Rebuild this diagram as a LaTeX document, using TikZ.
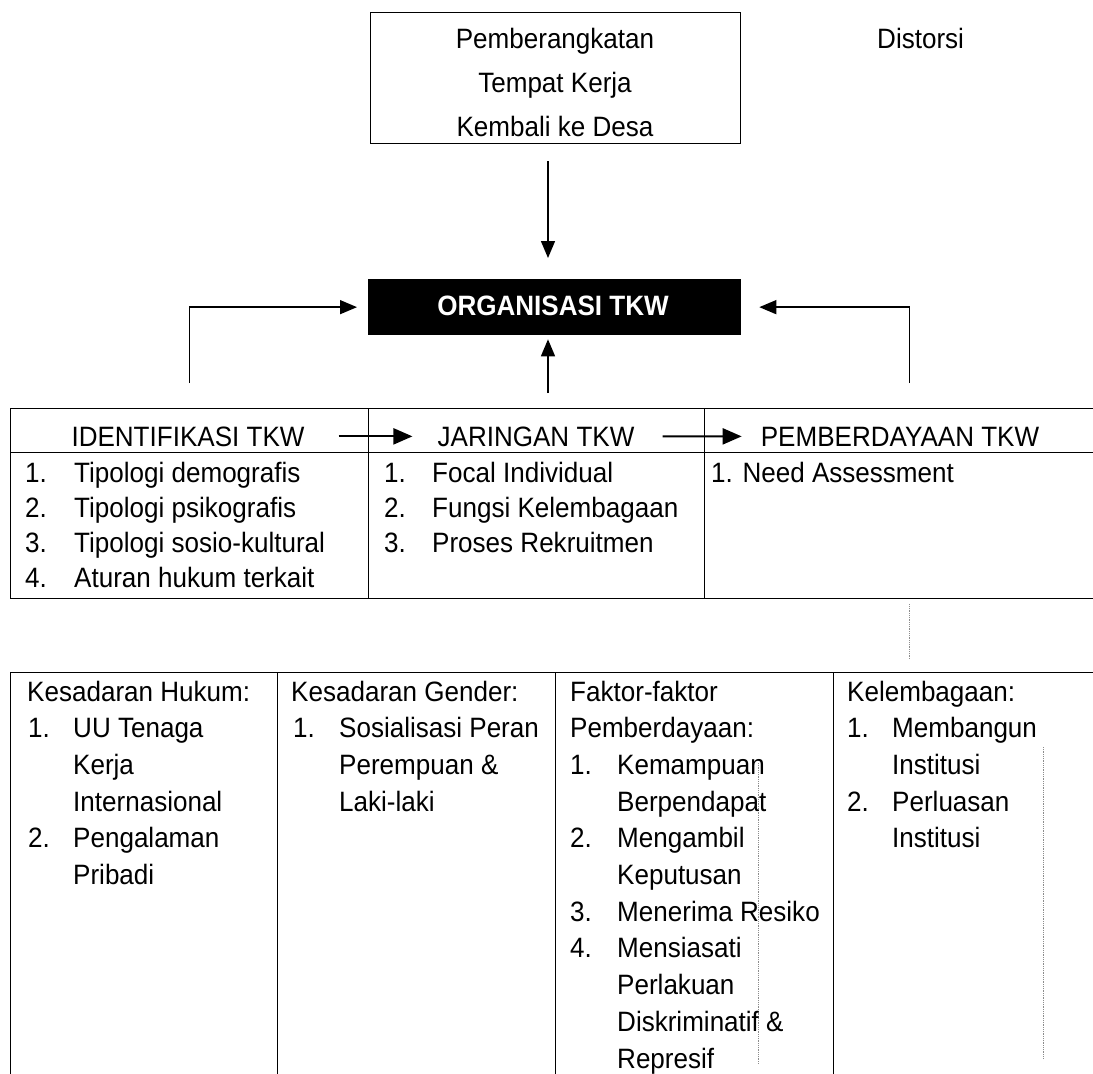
\documentclass[tikz,border=0pt]{standalone}
\usepackage{fontspec}
\setmainfont{Liberation Sans}[FakeStretch=0.93]
\usetikzlibrary{arrows.meta}
\begin{document}
\begin{tikzpicture}[x=1bp,y=-1bp,
  txt/.style={inner sep=0pt, anchor=base west, font=\fontsize{28bp}{34bp}\selectfont},
  ctxt/.style={txt, anchor=base},
  frame/.style={draw=black, line width=1.3bp, inner sep=0pt, anchor=north west},
  conn/.style={draw=black, line width=1.4bp, -{Triangle[length=17bp,width=14bp]}},
  hconn/.style={draw=black, line width=2.2bp, -{Triangle[length=19bp,width=16bp]}},
  ghost/.style={draw=black!45, line width=0.8bp, densely dotted}]

\useasboundingbox (0,0) rectangle (1093,1074);
\fill[white] (0,0) rectangle (1093,1074);

% ---------- top box ----------
\node[frame, minimum width=370bp, minimum height=131bp] (src) at (370,12) {};
\node[ctxt] (s1) at (555,48) {Pemberangkatan};
\node[ctxt] (s2) at (555,92) {Tempat Kerja};
\node[ctxt] (s3) at (555,136) {Kembali ke Desa};
\node[txt] (dist) at (877,48) {Distorsi};

% ---------- central box ----------
\node[frame, fill=black, minimum width=372bp, minimum height=55bp] (org) at (368,279) {};
\node[inner sep=0pt, text=white, font=\fontsize{28bp}{34bp}\selectfont\bfseries] (orgt) at (553,306) {ORGANISASI TKW};

\coordinate (ax) at (548,0);
\draw[conn, shorten <=17bp, shorten >=21bp] (src.south -| ax) -- (org.north -| ax);

% ---------- table 1 ----------
\node[frame, minimum width=358bp, minimum height=44bp] (h1) at (10,408) {};
\node[frame, minimum width=336bp, minimum height=44bp] (h2) at (368,408) {};
\node[frame, minimum width=410bp, minimum height=44bp] (h3) at (704,408) {};
\node[frame, minimum width=358bp, minimum height=146bp] (b1) at (10,452) {};
\node[frame, minimum width=336bp, minimum height=146bp] (b2) at (368,452) {};
\node[frame, minimum width=410bp, minimum height=146bp] (b3) at (704,452) {};

\node[ctxt] (ht1) at (188,446) {IDENTIFIKASI TKW};
\node[ctxt] (ht2) at (536,446) {JARINGAN TKW};
\node[ctxt] (ht3) at (900,446) {PEMBERDAYAAN TKW};
\draw[hconn, shorten <=34bp, shorten >=25bp] (ht1.east) -- (ht2.west);
\draw[hconn, shorten <=28bp, shorten >=19bp] (ht2.east) -- (ht3.west);

% connectors to central box
\draw[conn, shorten >=11bp] ([yshift=25bp]h1.north) |- (org.west);
\draw[conn, shorten >=18bp] ([yshift=25bp]h3.north) |- (org.east);
\draw[conn, shorten <=15bp, shorten >=4bp] (h2.north -| ax) -- (org.south -| ax);

% column 1
\node[txt] (a1n) at (25,482) {1.};  \node[txt] (a1) at (74,482) {Tipologi demografis};
\node[txt] (a2n) at (25,517) {2.};  \node[txt] (a2) at (74,517) {Tipologi psikografis};
\node[txt] (a3n) at (25,552) {3.};  \node[txt] (a3) at (74,552) {Tipologi sosio-kultural};
\node[txt] (a4n) at (25,587) {4.};  \node[txt] (a4) at (74,587) {Aturan hukum terkait};
% column 2
\node[txt] (j1n) at (384,482) {1.};  \node[txt] (j1) at (432,482) {Focal Individual};
\node[txt] (j2n) at (384,517) {2.};  \node[txt] (j2) at (432,517) {Fungsi Kelembagaan};
\node[txt] (j3n) at (384,552) {3.};  \node[txt] (j3) at (432,552) {Proses Rekruitmen};
% column 3
\node[txt] (p1) at (711,482) {1. Need Assessment};

% faint scan line
\draw[ghost] ([yshift=-5bp]b3.south) -- ++(0,55);

% ---------- table 2 ----------
\node[frame, minimum width=267bp, minimum height=420bp] (c1) at (10,672) {};
\node[frame, minimum width=278bp, minimum height=420bp] (c2) at (277,672) {};
\node[frame, minimum width=278bp, minimum height=420bp] (c3) at (555,672) {};
\node[frame, minimum width=278bp, minimum height=420bp] (c4) at (833,672) {};

\draw[ghost] (758,763) -- (758,1064);
\draw[ghost] (1043,747) -- (1043,1058);

\def\ls{36.7}
% col 1
\node[txt] (k0) at (27,701) {Kesadaran Hukum:};
\node[txt] (k1n) at (28,{701+1*\ls}) {1.}; \node[txt] (k1) at (73,{701+1*\ls}) {UU Tenaga};
\node[txt] (k2) at (73,{701+2*\ls}) {Kerja};
\node[txt] (k3) at (73,{701+3*\ls}) {Internasional};
\node[txt] (k4n) at (28,{701+4*\ls}) {2.}; \node[txt] (k4) at (73,{701+4*\ls}) {Pengalaman};
\node[txt] (k5) at (73,{701+5*\ls}) {Pribadi};
% col 2
\node[txt] (g0) at (291,701) {Kesadaran Gender:};
\node[txt] (g1n) at (293,{701+1*\ls}) {1.}; \node[txt] (g1) at (339,{701+1*\ls}) {Sosialisasi Peran};
\node[txt] (g2) at (339,{701+2*\ls}) {Perempuan \&};
\node[txt] (g3) at (339,{701+3*\ls}) {Laki-laki};
% col 3
\node[txt] (f0) at (570,701) {Faktor-faktor};
\node[txt] (f1) at (570,{701+1*\ls}) {Pemberdayaan:};
\node[txt] (f2n) at (570,{701+2*\ls}) {1.}; \node[txt] (f2) at (617,{701+2*\ls}) {Kemampuan};
\node[txt] (f3) at (617,{701+3*\ls}) {Berpendapat};
\node[txt] (f4n) at (570,{701+4*\ls}) {2.}; \node[txt] (f4) at (617,{701+4*\ls}) {Mengambil};
\node[txt] (f5) at (617,{701+5*\ls}) {Keputusan};
\node[txt] (f6n) at (570,{701+6*\ls}) {3.}; \node[txt] (f6) at (617,{701+6*\ls}) {Menerima Resiko};
\node[txt] (f7n) at (570,{701+7*\ls}) {4.}; \node[txt] (f7) at (617,{701+7*\ls}) {Mensiasati};
\node[txt] (f8) at (617,{701+8*\ls}) {Perlakuan};
\node[txt] (f9) at (617,{701+9*\ls}) {Diskriminatif \&};
\node[txt] (f10) at (617,{701+10*\ls}) {Represif};
% col 4
\node[txt] (e0) at (847,701) {Kelembagaan:};
\node[txt] (e1n) at (847,{701+1*\ls}) {1.}; \node[txt] (e1) at (892,{701+1*\ls}) {Membangun};
\node[txt] (e2) at (892,{701+2*\ls}) {Institusi};
\node[txt] (e3n) at (847,{701+3*\ls}) {2.}; \node[txt] (e3) at (892,{701+3*\ls}) {Perluasan};
\node[txt] (e4) at (892,{701+4*\ls}) {Institusi};
\end{tikzpicture}
\end{document}
